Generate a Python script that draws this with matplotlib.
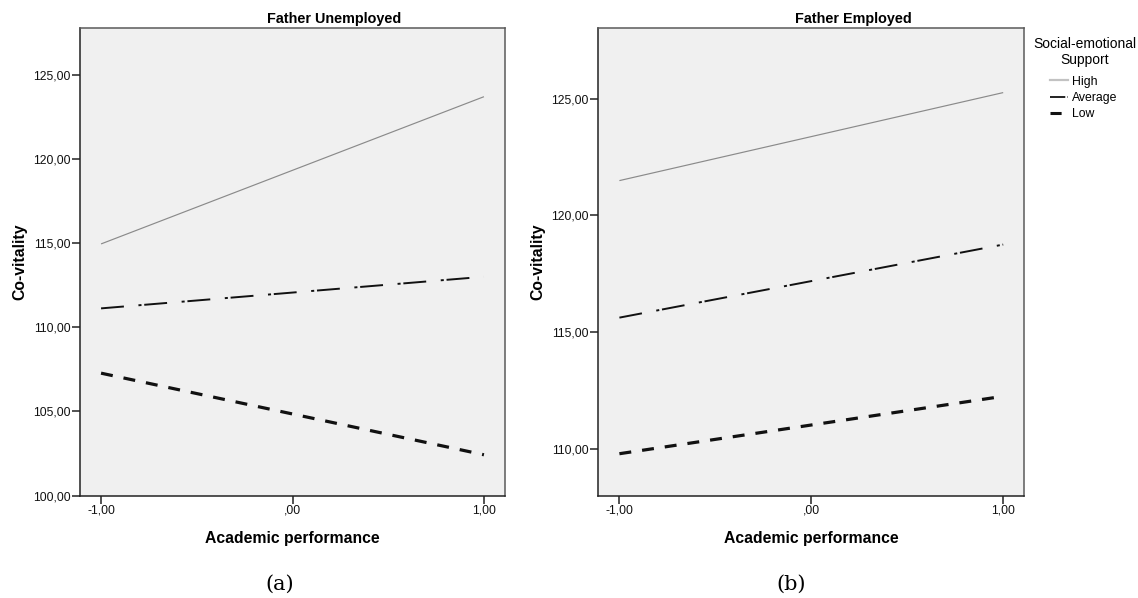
import matplotlib

matplotlib.use("Agg")
import matplotlib.pyplot as plt
from matplotlib.lines import Line2D
from matplotlib.ticker import FixedLocator, FuncFormatter

# data (predicted Co-vitality at -1 / +1 SD of academic performance)
ACADEMIC = [-1.0, 1.0]
LEVELS = ["High", "Average", "Low"]
PANEL_TITLES = ["Father Unemployed", "Father Employed"]
PANEL_TAGS = ["(a)", "(b)"]
LEGEND_TITLE = "Social-emotional\nSupport"

UNEMPLOYED_HIGH = [114.95, 123.70]
UNEMPLOYED_AVERAGE = [111.12, 113.00]
UNEMPLOYED_LOW = [107.27, 102.42]

EMPLOYED_HIGH = [121.49, 125.26]
EMPLOYED_AVERAGE = [115.62, 118.75]
EMPLOYED_LOW = [109.79, 112.25]

X_TICKS = [-1.0, 0.0, 1.0]
Y_TICKS_UNEMPLOYED = [100, 105, 110, 115, 120, 125]
Y_TICKS_EMPLOYED = [110, 115, 120, 125]

W, H = 1138, 598

STYLE = {
    "High": dict(color="#8a8a8a", linewidth=0.85, linestyle="-"),
    "Average": dict(color="#111111", linewidth=1.4, dashes=(16.5, 10.5, 2.2, 2.0)),
    "Low": dict(color="#111111", linewidth=2.3, dashes=(8.6, 7.9)),
}


def spss_fmt(v, pos=None):
    s = f"{v:.2f}".replace(".", ",")
    if s.startswith("0,"):
        s = s[1:]
    return s


def setup_style():
    plt.rcParams.update(
        {
            "font.family": ["Liberation Sans", "DejaVu Sans"],
            "lines.scale_dashes": False,
            "savefig.facecolor": "white",
        }
    )


def draw_panel(fig, rect, title, series, yticks, ylim):
    ax = fig.add_axes(rect)
    ax.set_facecolor("#f0f0f0")
    for level, ys in zip(LEVELS, series):
        ax.plot(ACADEMIC, ys, solid_capstyle="butt", dash_capstyle="butt", **STYLE[level])
    ax.set_xlim(-1.11, 1.11)
    ax.set_ylim(*ylim)
    ax.xaxis.set_major_locator(FixedLocator(X_TICKS))
    ax.yaxis.set_major_locator(FixedLocator(yticks))
    ax.xaxis.set_major_formatter(FuncFormatter(spss_fmt))
    ax.yaxis.set_major_formatter(FuncFormatter(spss_fmt))
    ax.tick_params(length=6, width=1.1, color="#222222", labelsize=8.8, labelcolor="#111111", pad=0.8)
    for side in ["left", "bottom"]:
        ax.spines[side].set_color("#222222")
        ax.spines[side].set_linewidth(1.1)
    for side in ["top", "right"]:
        ax.spines[side].set_color("#5a5a5a")
        ax.spines[side].set_linewidth(1.1)
    ax.set_title(title, x=0.599, pad=3.6, fontsize=10.4, fontweight="bold")
    ax.set_xlabel("Academic performance", fontsize=11.3, fontweight="bold", labelpad=10)
    ax.set_ylabel("Co-vitality", fontsize=11.3, fontweight="bold")
    ax.yaxis.set_label_coords(-0.124, 0.5)
    return ax


def main():
    setup_style()
    fig = plt.figure(figsize=(W / 100, H / 100), dpi=100)

    bottom = 1 - 495.5 / H
    height = (495.5 - 27.7) / H
    left_rect = [80 / W, bottom, 425 / W, height]
    right_rect = [598.3 / W, bottom, 426 / W, height]

    draw_panel(
        fig,
        left_rect,
        PANEL_TITLES[0],
        [UNEMPLOYED_HIGH, UNEMPLOYED_AVERAGE, UNEMPLOYED_LOW],
        Y_TICKS_UNEMPLOYED,
        (100, 127.8),
    )
    draw_panel(
        fig,
        right_rect,
        PANEL_TITLES[1],
        [EMPLOYED_HIGH, EMPLOYED_AVERAGE, EMPLOYED_LOW],
        Y_TICKS_EMPLOYED,
        (108, 128.04),
    )

    # legend title drawn on its own so it can sit centred with SPSS-like spacing
    fig.text(1085 / W, 1 - 52 / H, LEGEND_TITLE, ha="center", va="center",
             multialignment="center", fontsize=10, linespacing=1.2)

    handles = [
        Line2D([], [], color="#c2c2c2", linewidth=1.6),
        Line2D([], [], color="#111111", linewidth=1.3, dashes=(11, 1.6, 1.2, 6)),
        Line2D([], [], color="#111111", linewidth=2.2, dashes=(8.0, 6)),
    ]
    fig.legend(
        handles,
        LEVELS,
        loc="upper left",
        bbox_to_anchor=(1050 / W, 1 - 75.5 / H),
        frameon=False,
        fontsize=8.8,
        handlelength=1.5,
        handletextpad=0.3,
        labelspacing=0.36,
        borderpad=0,
        borderaxespad=0,
    )

    for tag, cx in zip(PANEL_TAGS, [279.5, 791]):
        fig.text(cx / W, 1 - 584 / H, tag, ha="center", va="center", fontsize=15, family="DejaVu Serif")

    fig.savefig("out.png", dpi=100)
    plt.close(fig)


if __name__ == "__main__":
    main()
